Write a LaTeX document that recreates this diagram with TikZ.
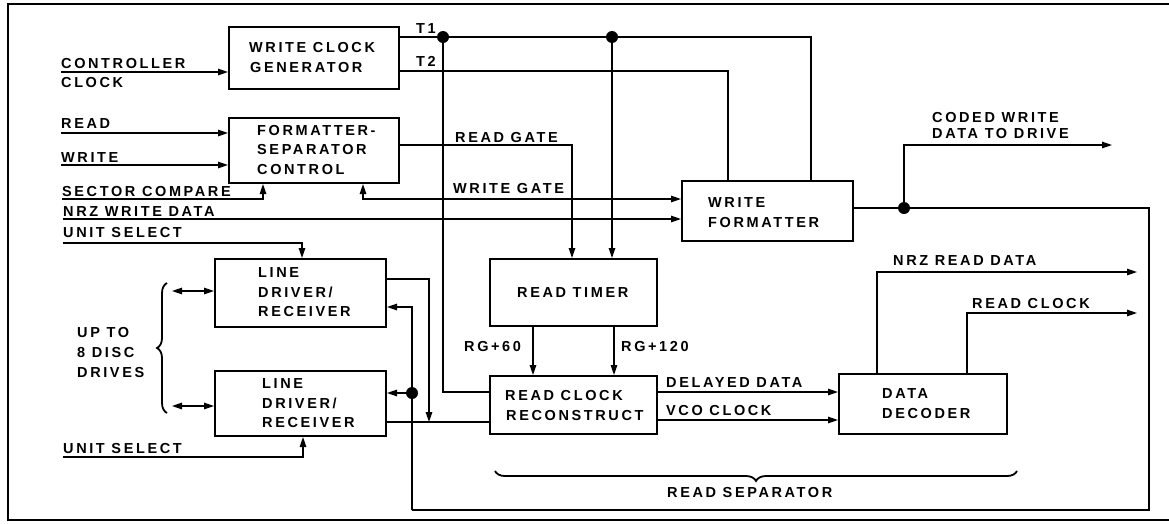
\documentclass[tikz,border=0pt]{standalone}
\usepackage{fontspec}
\setmainfont{Liberation Sans}[LetterSpace=18]
\usetikzlibrary{arrows.meta,decorations.pathreplacing}
\begin{document}
\begin{tikzpicture}[x=1pt,y=-1pt,
  box/.style={draw, line width=2pt, anchor=north west, inner sep=0pt},
  lbl/.style={anchor=base west, inner sep=0pt, font=\fontsize{14.5}{19.5}\selectfont\bfseries},
  wire/.style={line width=1.3pt},
  arr/.style={wire, -{Triangle[length=10pt,width=6.5pt]}},
  darr/.style={wire, {Triangle[length=10pt,width=6.5pt]}-{Triangle[length=10pt,width=6.5pt]}},
  bracestyle/.style={line width=1.8pt, decorate, decoration={brace, amplitude=10pt}},
  dot/.style={fill=black}
]
\useasboundingbox (0,0) rectangle (1169,523);
\clip (0,0) rectangle (1169,523);
\draw[line width=1.8pt] (8,4) rectangle (1185,520);

% boxes
\node[box, minimum width=170pt, minimum height=62pt] (wcg) at (228,26) {};
\node[box, minimum width=170pt, minimum height=65pt] (fsc) at (228,117) {};
\node[box, minimum width=171pt, minimum height=60pt] (wf) at (681,180) {};
\node[box, minimum width=171pt, minimum height=68pt] (ldr1) at (214,258) {};
\node[box, minimum width=171pt, minimum height=65pt] (ldr2) at (214,370) {};
\node[box, minimum width=167pt, minimum height=67pt] (rt) at (489,258) {};
\node[box, minimum width=167pt, minimum height=58pt] (rcr) at (489,375) {};
\node[box, minimum width=168pt, minimum height=60pt] (dd) at (838,373) {};

% box texts
\node[lbl] (wcgA) at (249,52) {WRITE CLOCK};
\node[lbl] (wcgB) at (250,72) {GENERATOR};
\node[lbl] (fscA) at (257,135) {FORMATTER-};
\node[lbl] (fscB) at (257,154) {SEPARATOR};
\node[lbl] (fscC) at (257,174) {CONTROL};
\node[lbl] (wfA) at (708,207) {WRITE};
\node[lbl] (wfB) at (708,227) {FORMATTER};
\node[lbl] (ldr1A) at (258,277) {LINE};
\node[lbl] (ldr1B) at (258,297) {DRIVER/};
\node[lbl] (ldr1C) at (258,316) {RECEIVER};
\node[lbl] (ldr2A) at (262,388) {LINE};
\node[lbl] (ldr2B) at (262,408) {DRIVER/};
\node[lbl] (ldr2C) at (262,427) {RECEIVER};
\node[lbl] (rtA) at (517,297) {READ TIMER};
\node[lbl] (rcrA) at (505,400) {READ CLOCK};
\node[lbl] (rcrB) at (506,420) {RECONSTRUCT};
\node[lbl] (ddA) at (882,398) {DATA};
\node[lbl] (ddB) at (882,418) {DECODER};

% signal labels
\node[lbl] (lCC1) at (61,68) {CONTROLLER};
\node[lbl] (lCC2) at (61,87) {CLOCK};
\node[lbl] (lRD) at (61,128) {READ};
\node[lbl] (lWR) at (61,162) {WRITE};
\node[lbl] (lSC) at (62,196) {SECTOR COMPARE};
\node[lbl] (lNWD) at (63,216) {NRZ WRITE DATA};
\node[lbl] (lUS1) at (63,237) {UNIT SELECT};
\node[lbl] (lUS2) at (63,453) {UNIT SELECT};
\node[lbl] (lUP1) at (77,337) {UP TO};
\node[lbl] (lUP2) at (77,357) {8 DISC};
\node[lbl] (lUP3) at (77,377) {DRIVES};
\node[lbl] (lT1) at (416,33) {T1};
\node[lbl] (lT2) at (416,66) {T2};
\node[lbl] (lRG) at (455,142) {READ GATE};
\node[lbl] (lWG) at (453,193) {WRITE GATE};
\node[lbl] (lCW1) at (932,122) {CODED WRITE};
\node[lbl] (lCW2) at (932,138) {DATA TO DRIVE};
\node[lbl] (lRG60) at (464,351) {RG+60};
\node[lbl] (lRG120) at (621,351) {RG+120};
\node[lbl] (lDD) at (666,387) {DELAYED DATA};
\node[lbl] (lVCO) at (666,415) {VCO CLOCK};
\node[lbl] (lNRD) at (893,265) {NRZ READ DATA};
\node[lbl] (lRC) at (972,308) {READ CLOCK};
\node[lbl] (lRS) at (667,497) {READ SEPARATOR};

% free-end coordinates
\coordinate (cc) at (61,72);
\coordinate (rd) at (61,133);
\coordinate (wr) at (61,165);
\coordinate (sc) at (62,199);
\coordinate (nwd) at (63,219);
\coordinate (us1) at (63,243);
\coordinate (us2) at (63,457);
\coordinate (d1) at (172,291);
\coordinate (d2) at (172,406);
\coordinate (j1) at (429,422);
\coordinate (n1) at (443,37);
\coordinate (n2) at (612,37);
\coordinate (o1) at (1137,272);
\coordinate (o2) at (1137,313);
\coordinate (o3) at (1112,145);
\coordinate (j3) at (904,208);
\coordinate (rr) at (1149,510);
\coordinate (rl) at (412,510);
\coordinate (j2) at (412,393);

% inputs
\draw[arr] (cc) -- (cc -| wcg.west);
\draw[arr] (rd) -- (rd -| fsc.west);
\draw[arr] (wr) -- (wr -| fsc.west);
\draw[arr] (sc) -| ([xshift=35pt]fsc.south west);
\draw[darr] ([xshift=135pt]fsc.south west) |- (wf.west |- sc);
\draw[arr] (nwd) -- (nwd -| wf.west);
\draw[arr] (us1) -| ([xshift=88pt]ldr1.north west);
\draw[arr] (us2) -| ([xshift=89pt]ldr2.south west);
\draw[darr] (d1) -- (d1 -| ldr1.west);
\draw[darr] (d2) -- (d2 -| ldr2.west);
\draw[bracestyle] (167,413) -- (167,283);

% line drivers to read clock reconstruct
\draw[arr] ([yshift=-21pt]ldr1.north east) -| (j1);
\draw[wire] ([yshift=-52pt]ldr2.north east) -- ([yshift=-47pt]rcr.north west);

% T1 / T2
\draw[wire] ([yshift=-11pt]wcg.north east) -| ([xshift=130pt]wf.north west);
\draw[wire] ([yshift=-45pt]wcg.north east) -| ([xshift=47pt]wf.north west);
\fill[dot] (n1) circle (6pt);
\fill[dot] (n2) circle (6pt);
\draw[wire] (n1) |- ([yshift=-17pt]rcr.north west);
\draw[arr] (n2) -- (n2 |- rt.north);

% read gate
\draw[arr] ([yshift=-28pt]fsc.north east) -| ([xshift=83pt]rt.north west);

% read timer to reconstruct
\draw[arr] ([xshift=44pt]rt.south west) -- ([xshift=44pt]rcr.north west);
\draw[arr] ([xshift=125pt]rt.south west) -- ([xshift=125pt]rcr.north west);

% reconstruct to decoder
\draw[arr] ([yshift=-17pt]rcr.north east) -- ([yshift=-19pt]dd.north west);
\draw[arr] ([yshift=-45pt]rcr.north east) -- ([yshift=-47pt]dd.north west);

% decoder outputs
\draw[arr] ([xshift=39pt]dd.north west) |- (o1);
\draw[arr] ([xshift=129pt]dd.north west) |- (o2);

% write formatter output and loop back
\draw[wire] ([yshift=-28pt]wf.north east) -| (rr) -- (rl);
\draw[arr] (rl) |- ([yshift=-49pt]ldr1.north east);
\fill[dot] (j3) circle (6pt);
\draw[arr] (j3) |- (o3);
\fill[dot] (j2) circle (6pt);
\draw[arr] (j2) -- (j2 -| ldr2.east);

% read separator brace
\draw[bracestyle] (1017,471) -- (495,471);
\end{tikzpicture}
\end{document}
